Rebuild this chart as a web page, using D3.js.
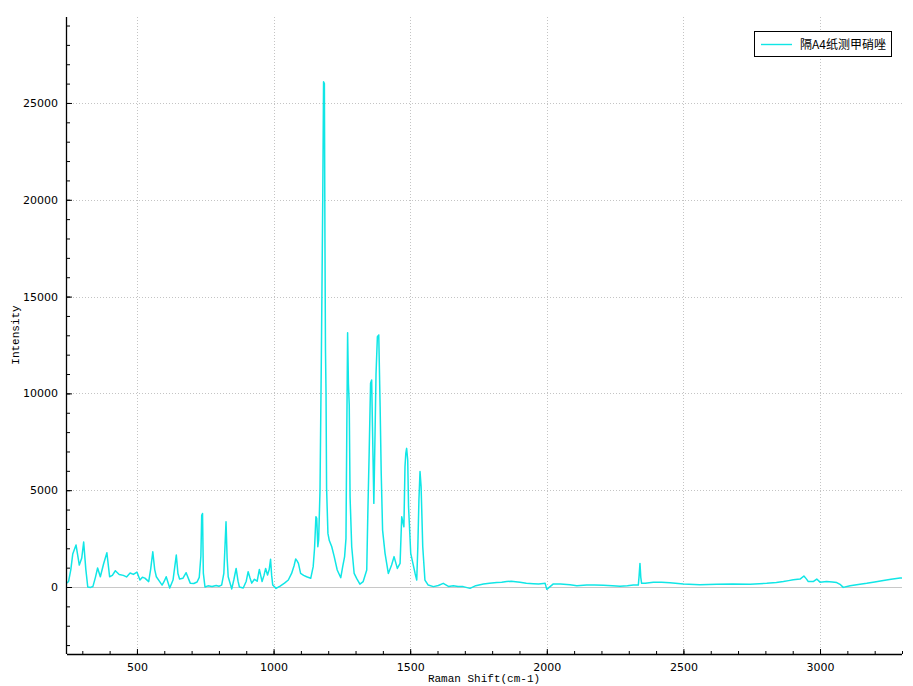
<!DOCTYPE html>
<html><head><meta charset="utf-8">
<script src="https://cdn.jsdelivr.net/npm/d3@7"></script>
<style>
html,body{margin:0;padding:0;background:#fff;}
svg{display:block;}
</style></head>
<body>
<svg id="chart" width="913" height="686"></svg>
<script>
const ramanShift = [244,250,258,265,277,289,298,305,313,320,330,339,348,356,366,378,390,400,410,421,435,450,462,475,487,500,511,520,529,543,550,558,565,571,582,592,600,607,620,632,638,644,650,656,668,680,695,708,720,728,734,737,740,743,749,760,775,790,800,810,818,826,830,834,847,855,863,870,875,889,900,907,913,920,930,940,948,958,965,971,978,984,989,993,997,1009,1024,1040,1054,1066,1075,1081,1086,1091,1099,1110,1121,1136,1145,1150,1155,1158,1162,1165,1170,1175,1180,1183,1186,1188,1190,1192,1194,1199,1204,1213,1222,1233,1246,1253,1260,1265,1268,1271,1274,1277,1280,1286,1295,1304,1316,1328,1341,1345,1350,1355,1359,1362,1367,1371,1375,1380,1385,1390,1394,1399,1408,1420,1432,1441,1453,1463,1469,1477,1481,1484,1487,1491,1494,1502,1518,1524,1528,1532,1536,1540,1546,1554,1566,1585,1603,1621,1640,1658,1675,1694,1719,1740,1768,1790,1817,1835,1853,1870,1902,1925,1951,1970,1987,1994,2000,2024,2050,2085,2110,2146,2175,2207,2240,2268,2295,2317,2335,2338,2341,2344,2347,2360,2390,2420,2451,2500,2560,2622,2680,2744,2805,2840,2866,2885,2902,2927,2941,2950,2957,2975,2988,3000,3024,3045,3061,3075,3085,3110,3140,3171,3200,3232,3260,3293,3300];
const intensity = [200,300,900,1700,2170,1130,1500,2320,900,0,-20,30,500,980,530,1200,1770,530,600,840,650,600,520,720,650,770,360,500,460,280,900,1820,900,530,300,100,300,530,-50,360,1000,1650,700,410,450,740,200,180,260,500,1600,3700,3800,720,0,60,30,80,40,100,700,3370,1500,530,-100,400,960,300,0,-50,300,790,500,200,400,300,910,280,600,960,620,900,1430,600,100,-70,50,200,360,700,1100,1450,1350,1220,700,600,530,450,1050,2000,3630,3550,2080,2430,5000,12000,20000,26100,26000,18100,12240,10020,5130,2770,2400,2080,1570,880,480,1050,1570,2500,8000,13130,10500,9400,4660,2080,700,450,150,280,880,3800,7000,10520,10690,8280,4320,7590,11000,12930,13020,9310,5870,2940,1740,700,1140,1570,960,1220,3630,3110,6210,6900,7160,6560,4150,1740,700,360,2080,4500,5960,5180,2080,360,100,20,80,190,30,60,30,20,-70,70,150,190,230,250,280,300,240,190,170,150,180,190,-120,160,150,120,70,110,100,90,70,40,60,100,100,600,1220,500,190,190,250,240,220,150,120,140,150,140,190,230,280,330,370,410,570,420,280,280,410,250,280,260,230,120,-20,70,130,190,260,340,400,460,470];
const xTicks = [500,1000,1500,2000,2500,3000];
const yTicks = [0,5000,10000,15000,20000,25000];
const legendLabel = "隔A4纸测甲硝唑";
const xTitle = "Raman Shift(cm-1)";
const yTitle = "Intensity";

const svg = d3.select("#chart");
const L = 67, R = 902, T = 17, B = 654;
const x = d3.scaleLinear().domain([244, 3300]).range([L, R]);
const y = d3.scaleLinear().domain([-3460, 29440]).range([B, T]);
const lineColor = "#10e6e6";

// grid
const g = svg.append("g");
g.selectAll(".vg").data(xTicks).enter().append("line")
  .attr("x1", d => Math.round(x(d)) + 0.5).attr("x2", d => Math.round(x(d)) + 0.5)
  .attr("y1", T).attr("y2", B)
  .attr("stroke", "#c4c4c4").attr("stroke-dasharray", "1,2");
g.selectAll(".hg").data(yTicks.filter(d => d !== 0)).enter().append("line")
  .attr("y1", d => Math.round(y(d)) + 0.5).attr("y2", d => Math.round(y(d)) + 0.5)
  .attr("x1", L).attr("x2", R)
  .attr("stroke", "#c4c4c4").attr("stroke-dasharray", "1,2");
g.append("line").attr("x1", L).attr("x2", R)
  .attr("y1", Math.round(y(0)) + 0.5).attr("y2", Math.round(y(0)) + 0.5)
  .attr("stroke", "#c8c8c8");

// data line
svg.append("clipPath").attr("id", "clip").append("rect")
  .attr("x", L).attr("y", T).attr("width", R - L).attr("height", B - T);
const pts = ramanShift.map((v, i) => [v, intensity[i]]);
svg.append("path").datum(pts)
  .attr("clip-path", "url(#clip)")
  .attr("fill", "none").attr("stroke", lineColor).attr("stroke-width", 1.5)
  .attr("stroke-linejoin", "round")
  .attr("d", d3.line().x(d => x(d[0])).y(d => y(d[1])));

// axes
const xAxis = d3.axisBottom(x).tickValues(xTicks).tickSize(-5).tickPadding(9).tickFormat(d3.format("d"));
const xMinor = d3.axisBottom(x).tickValues(d3.range(300, 3301, 100)).tickSize(-3).tickFormat("");
const yAxis = d3.axisLeft(y).tickValues(yTicks).tickSize(-5).tickPadding(9).tickFormat(d3.format("d"));
const yMinor = d3.axisLeft(y).tickValues(d3.range(-3000, 29001, 1000)).tickSize(-3).tickFormat("");

function styleAxis(sel) {
  sel.select(".domain").remove();
  sel.selectAll("line").attr("stroke", "#000");
  sel.selectAll("text").attr("fill", "#000").style("font-family", "'DejaVu Sans', sans-serif").style("font-size", "11px");
}
svg.append("g").attr("transform", `translate(0,${B})`).call(xMinor).call(styleAxis);
svg.append("g").attr("transform", `translate(0,${B})`).call(xAxis).call(styleAxis);
svg.append("g").attr("transform", `translate(${L},0)`).call(yMinor).call(styleAxis);
svg.append("g").attr("transform", `translate(${L},0)`).call(yAxis).call(styleAxis);
svg.append("line").attr("x1", L).attr("x2", R).attr("y1", B + 0.5).attr("y2", B + 0.5).attr("stroke", "#000").attr("stroke-width", 1.3);
svg.append("line").attr("x1", L - 0.5).attr("x2", L - 0.5).attr("y1", T).attr("y2", B).attr("stroke", "#000").attr("stroke-width", 1.3);

// titles
svg.append("text").attr("x", 484).attr("y", 682).attr("text-anchor", "middle")
  .style("font-family", "'Liberation Mono', monospace").style("font-size", "11px").text(xTitle);
svg.append("text").attr("transform", "translate(19,335) rotate(-90)").attr("text-anchor", "middle")
  .style("font-family", "'Liberation Mono', monospace").style("font-size", "11px").text(yTitle);

// legend
const lg = svg.append("g");
lg.append("rect").attr("x", 754.5).attr("y", 31.5).attr("width", 137).attr("height", 25)
  .attr("fill", "#fff").attr("stroke", "#000");
lg.append("line").attr("x1", 761).attr("x2", 792).attr("y1", 44.5).attr("y2", 44.5)
  .attr("stroke", lineColor).attr("stroke-width", 1.4);
lg.append("text").attr("x", 800).attr("y", 49)
  .style("font-family", "'Noto Sans CJK SC', sans-serif").style("font-size", "12px").text(legendLabel);
</script>
</body></html>
